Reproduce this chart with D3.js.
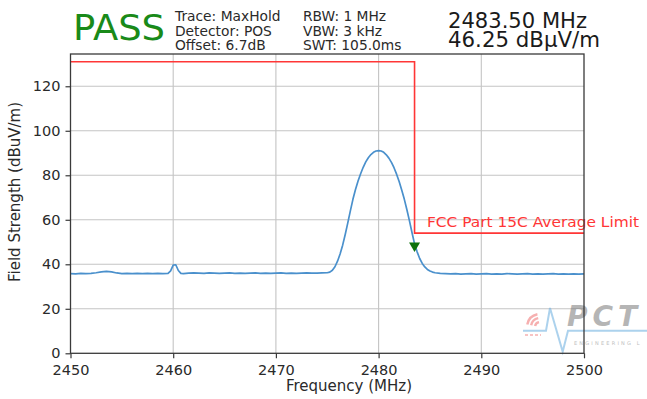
<!DOCTYPE html>
<html>
<head>
<meta charset="utf-8">
<script src="https://cdn.jsdelivr.net/npm/d3@7"></script>
<style>
  html, body { margin: 0; padding: 0; background: #fff; }
  svg { display: block; }
  text { font-family: "DejaVu Sans", sans-serif; }
</style>
</head>
<body>
<svg id="chart" width="647" height="399"></svg>
<script>
// Sweep trace: frequency (MHz) and field strength (dBuV/m)
const traceFreq = [
  2450.0, 2450.5, 2451.0, 2451.5, 2452.0, 2452.5, 2453.0, 2453.5, 2454.0, 2454.5,
  2455.0, 2455.5, 2456.0, 2456.5, 2457.0, 2457.5, 2458.0, 2458.5, 2459.0, 2459.5,
  2459.75, 2460.0, 2460.25, 2460.5, 2460.75, 2461.0, 2461.5, 2462.0, 2462.5, 2463.0,
  2463.5, 2464.0, 2464.5, 2465.0, 2465.5, 2466.0, 2466.5, 2467.0, 2467.5, 2468.0,
  2468.5, 2469.0, 2469.5, 2470.0, 2470.5, 2471.0, 2471.5, 2472.0, 2472.5, 2473.0,
  2473.5, 2474.0, 2474.5, 2475.0, 2475.25, 2475.5, 2475.75, 2476.0, 2476.25, 2476.5,
  2476.75, 2477.0, 2477.25, 2477.5, 2477.75, 2478.0, 2478.25, 2478.5, 2478.75, 2479.0,
  2479.25, 2479.5, 2479.75, 2480.0, 2480.25, 2480.5, 2480.75, 2481.0, 2481.25, 2481.5,
  2481.75, 2482.0, 2482.25, 2482.5, 2482.75, 2483.0, 2483.25, 2483.5, 2483.75, 2484.0,
  2484.25, 2484.5, 2484.75, 2485.0, 2485.25, 2485.5, 2486.0, 2486.5, 2487.0, 2487.5,
  2488.0, 2488.5, 2489.0, 2489.5, 2490.0, 2490.5, 2491.0, 2491.5, 2492.0, 2492.5,
  2493.0, 2493.5, 2494.0, 2494.5, 2495.0, 2495.5, 2496.0, 2496.5, 2497.0, 2497.5,
  2498.0, 2498.5, 2499.0, 2499.5, 2500.0
];
const traceLevel = [
  35.8, 35.7, 35.9, 35.8, 35.9, 36.2, 36.6, 36.8, 36.6, 36.1,
  35.8, 35.9, 35.8, 35.9, 35.8, 35.9, 35.8, 35.9, 35.8, 35.9,
  37.0, 39.6, 39.8, 37.2, 35.9, 35.8, 36.0, 36.1, 36.0, 35.9,
  36.1, 36.0, 35.9, 36.0, 36.1, 35.9, 36.0, 35.9, 36.0, 36.1,
  35.9, 36.0, 35.9, 36.0, 36.1, 35.9, 36.0, 35.9, 36.0, 36.1,
  36.0, 36.0, 36.1, 36.2, 36.5, 37.3, 38.9, 41.4, 44.6, 48.6,
  53.4, 58.6, 64.0, 69.2, 73.6, 77.4, 80.7, 83.6, 86.0, 87.9,
  89.3, 90.3, 90.9, 91.1, 90.9, 90.3, 89.2, 87.7, 85.8, 83.4,
  80.5, 77.2, 73.4, 69.3, 64.6, 59.6, 54.3, 49.2, 45.6, 42.6,
  40.4, 38.8, 37.7, 37.0, 36.5, 36.2, 35.9, 35.8, 35.7, 35.8,
  35.6, 35.7, 35.8, 35.6, 35.7, 35.8, 35.6, 35.7, 35.6, 35.8,
  35.7, 35.6, 35.7, 35.8, 35.6, 35.7, 35.6, 35.7, 35.8, 35.6,
  35.7, 35.6, 35.7, 35.6, 35.7
];

// FCC Part 15C average limit (step at the band edge)
const limitFreq  = [2450, 2483.5, 2483.5, 2500];
const limitLevel = [131, 131, 54, 54];

// Marker reading
const markerFreq  = 2483.5;
const markerLevel = 46.25;

// Axis ticks
const xTicks = [2450, 2460, 2470, 2480, 2490, 2500];
const yTicks = [0, 20, 40, 60, 80, 100, 120];

// Header text
const verdict = "PASS";
const settingsCol1 = ["Trace: MaxHold", "Detector: POS", "Offset: 6.7dB"];
const settingsCol2 = ["RBW: 1 MHz", "VBW: 3 kHz", "SWT: 105.0ms"];
const limitLabel = "FCC Part 15C Average Limit";

const svg = d3.select("#chart");
const plotLeft = 70.5, plotRight = 584, plotTop = 54, plotBottom = 353.3;

const x = d3.scaleLinear().domain([2450, 2500]).range([plotLeft, plotRight]);
const y = d3.scaleLinear().domain([0, 134.5]).range([plotBottom, plotTop]);

svg.append("rect").attr("width", 647).attr("height", 399).attr("fill", "#fff");

// Grid
const grid = svg.append("g");
grid.selectAll("line.gx").data(xTicks.slice(1, -1)).join("line")
  .attr("x1", d => x(d)).attr("x2", d => x(d))
  .attr("y1", plotTop).attr("y2", plotBottom)
  .attr("stroke", "#c4c4c4").attr("stroke-width", 1.1);
grid.selectAll("line.gy").data(yTicks.slice(1)).join("line")
  .attr("x1", plotLeft).attr("x2", plotRight)
  .attr("y1", d => y(d)).attr("y2", d => y(d))
  .attr("stroke", "#c4c4c4").attr("stroke-width", 1.1);

// Company watermark (bottom right, runs off the edge)
const wm = svg.append("g").attr("opacity", 0.55);
[5, 9, 13].forEach(r => {
  wm.append("path")
    .attr("d", d3.arc()({innerRadius: r - 1.2, outerRadius: r + 1.2, startAngle: -Math.PI / 2 + 0.2, endAngle: -0.2}))
    .attr("transform", "translate(540,327)")
    .attr("fill", "#f07070");
});
wm.append("line").attr("x1", 525).attr("x2", 541).attr("y1", 335).attr("y2", 335)
  .attr("stroke", "#f07070").attr("stroke-width", 1.5).attr("stroke-dasharray", "3,2");
wm.append("path")
  .attr("d", "M523,330.7 L546,330.7 L550,308 L562.7,351.7 L568,330.7 L647,330.7")
  .attr("fill", "none").attr("stroke", "#6aaee0").attr("stroke-width", 2);
wm.append("text").attr("x", 567).attr("y", 326)
  .attr("font-size", 28).attr("font-weight", "bold").attr("font-style", "italic")
  .attr("letter-spacing", 5).attr("fill", "#7a7a7a").text("PCT");
wm.append("text").attr("x", 574).attr("y", 345)
  .attr("font-size", 5).attr("letter-spacing", 2.2).attr("fill", "#8a8a8a").text("ENGINEERING L");

// Limit line
const line = d3.line().x(d => x(d[0])).y(d => y(d[1]));
svg.append("path")
  .datum(limitFreq.map((f, i) => [f, limitLevel[i]]))
  .attr("d", line).attr("fill", "none")
  .attr("stroke", "#ff3636").attr("stroke-width", 1.6);

// Trace
svg.append("path")
  .datum(traceFreq.map((f, i) => [f, traceLevel[i]]))
  .attr("d", line).attr("fill", "none")
  .attr("stroke", "#4a90cc").attr("stroke-width", 1.7).attr("stroke-linejoin", "round");

// Marker (downward triangle)
const mx = x(markerFreq), my = y(markerLevel);
svg.append("path")
  .attr("d", `M${mx - 5.5},${my - 8} L${mx + 5.5},${my - 8} L${mx},${my + 1.5} Z`)
  .attr("fill", "#0d720d");

// Limit label
svg.append("text").attr("x", 427).attr("y", 227)
  .attr("font-size", 14).attr("fill", "#ff3636")
  .attr("textLength", 212).attr("lengthAdjust", "spacingAndGlyphs")
  .text(limitLabel);

// Frame
svg.append("rect").attr("x", plotLeft).attr("y", plotTop)
  .attr("width", plotRight - plotLeft).attr("height", plotBottom - plotTop)
  .attr("fill", "none").attr("stroke", "#3a3a3a").attr("stroke-width", 1.3);

// Axes
const xAxis = svg.append("g").attr("transform", `translate(0,${plotBottom})`)
  .call(d3.axisBottom(x).tickValues(xTicks).tickFormat(d3.format("d")).tickSize(5).tickPadding(6));
const yAxis = svg.append("g").attr("transform", `translate(${plotLeft},0)`)
  .call(d3.axisLeft(y).tickValues(yTicks).tickFormat(d3.format("d")).tickSize(5).tickPadding(5));
[xAxis, yAxis].forEach(a => {
  a.select(".domain").remove();
  a.selectAll(".tick line").attr("stroke", "#3a3a3a").attr("stroke-width", 1.2);
  a.selectAll(".tick text").attr("fill", "#2a2a2a").attr("font-size", 14.5)
    .attr("font-family", "DejaVu Sans, sans-serif");
});

// Axis titles
svg.append("text").attr("x", 349).attr("y", 391).attr("text-anchor", "middle")
  .attr("font-size", 15).attr("fill", "#2a2a2a").text("Frequency (MHz)");
svg.append("text").attr("transform", "translate(20,192) rotate(-90)")
  .attr("text-anchor", "middle").attr("font-size", 15).attr("fill", "#2a2a2a")
  .text("Field Strength (dBuV/m)");

// Header
svg.append("text").attr("x", 73).attr("y", 40).attr("font-size", 35)
  .attr("fill", "#198a19").attr("textLength", 92).attr("lengthAdjust", "spacingAndGlyphs")
  .text(verdict);
const baselines = [21, 35.5, 50];
settingsCol1.forEach((t, i) => svg.append("text").attr("x", 175).attr("y", baselines[i])
  .attr("font-size", 13.8).attr("fill", "#2a2a2a").text(t));
settingsCol2.forEach((t, i) => svg.append("text").attr("x", 303).attr("y", baselines[i])
  .attr("font-size", 13.8).attr("fill", "#2a2a2a").text(t));
svg.append("text").attr("x", 448).attr("y", 28.3).attr("font-size", 20.5)
  .attr("fill", "#1a1a1a").attr("textLength", 139).attr("lengthAdjust", "spacingAndGlyphs")
  .text(`${markerFreq.toFixed(2)} MHz`);
svg.append("text").attr("x", 448).attr("y", 47).attr("font-size", 20.5)
  .attr("fill", "#1a1a1a").attr("textLength", 152).attr("lengthAdjust", "spacingAndGlyphs")
  .text(`${markerLevel.toFixed(2)} dBµV/m`);
</script>
</body>
</html>
